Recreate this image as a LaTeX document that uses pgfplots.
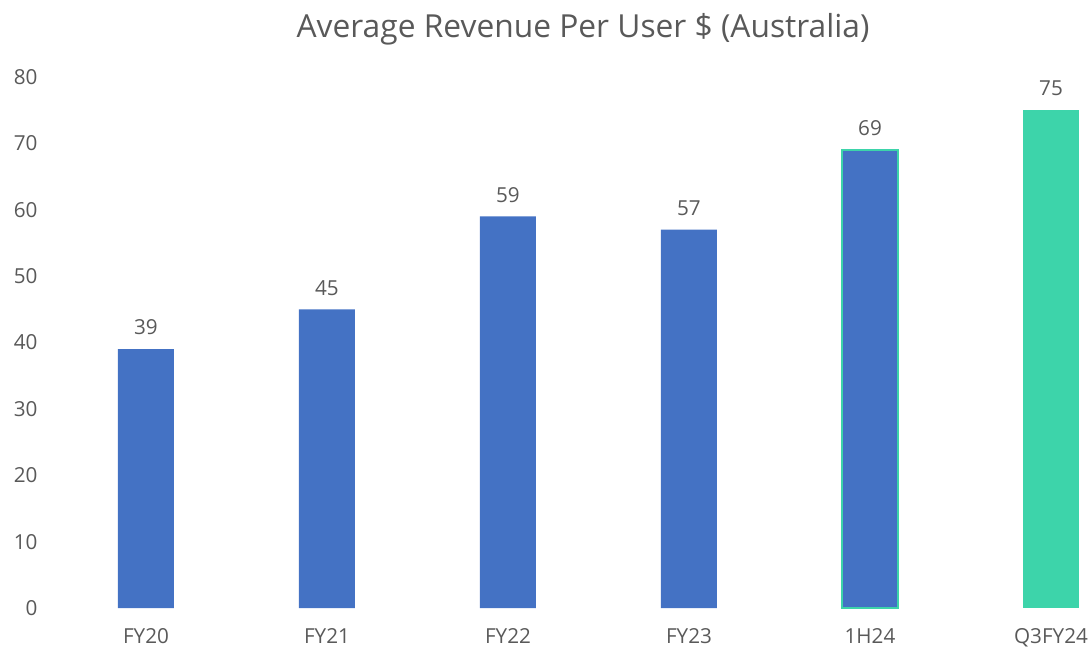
\documentclass[border=0pt]{standalone}
\usepackage{fontspec}
\setmainfont{Open Sans}
\usepackage{pgfplots}
\pgfplotsset{compat=1.18}
\definecolor{barblue}{HTML}{4472C4}
\definecolor{barteal}{HTML}{3DD4AA}
\definecolor{txtgray}{HTML}{595959}
\begin{document}
\begin{tikzpicture}[x=1pt,y=1pt]
\begin{axis}[
  name=ax,
  scale only axis,
  width=775pt, height=398.25pt,
  xmin=-0.5, xmax=5.21,
  ymin=0, ymax=80,
  ytick={0,10,...,80},
  xtick={0,1,2,3,4,5},
  xticklabels={FY20,FY21,FY22,FY23,1H24,Q3FY24},
  axis line style={draw=none},
  major tick length=0pt,
  tick label style={font=\fontsize{15.5}{18}\selectfont, text=txtgray},
  /pgf/number format/assume math mode=true,
  yticklabel style={xshift=-10pt},
  xticklabel style={yshift=-12pt},
  ybar, bar width=42pt,
  nodes near coords,
  nodes near coords style={font=\fontsize{15.5}{18}\selectfont, text=txtgray, yshift=7pt},
  clip=false,
]
\addplot[fill=barblue, draw=none, bar shift=0pt] coordinates {(0,39) (1,45) (2,59) (3,57)};
\addplot[fill=barblue, draw=barteal, line width=1.5pt, bar shift=0pt] coordinates {(4,69)};
\addplot[fill=barteal, draw=none, bar shift=0pt] coordinates {(5,75)};
\end{axis}
\node[anchor=base, text=txtgray, font=\fontsize{23.8}{28}\selectfont] at ([xshift=395.6pt, yshift=428pt]ax.south west) {Average Revenue Per User \$ (Australia)};
\pgfresetboundingbox
\path[use as bounding box] ([xshift=-41.6pt, yshift=-31.5pt]ax.south west) rectangle ([yshift=57.75pt]ax.north east);
\end{tikzpicture}
\end{document}
